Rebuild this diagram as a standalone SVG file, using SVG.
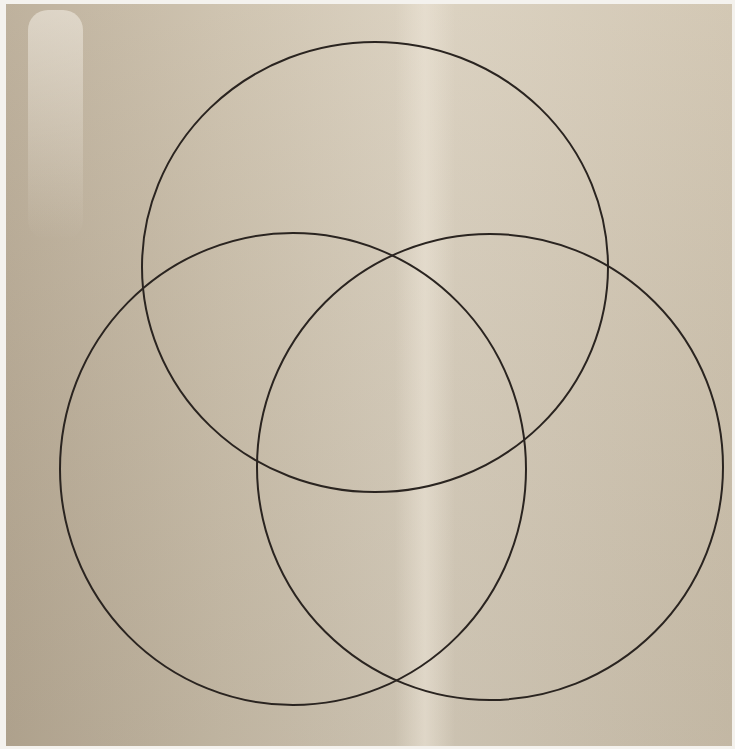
<svg xmlns="http://www.w3.org/2000/svg" width="735" height="749" viewBox="0 0 735 749">
<defs>
<linearGradient id="bg" x1="0" y1="0" x2="1" y2="0">
<stop offset="0" stop-color="#b9ab95"/>
<stop offset="0.3" stop-color="#cbbfaa"/>
<stop offset="0.58" stop-color="#d9cfbd"/>
<stop offset="1" stop-color="#cfc3ae"/>
</linearGradient>
<linearGradient id="shade" x1="0" y1="0" x2="0" y2="1">
<stop offset="0" stop-color="#ffffff" stop-opacity="0.08"/>
<stop offset="1" stop-color="#000000" stop-opacity="0.06"/>
</linearGradient>
<linearGradient id="band" x1="0" y1="0" x2="1" y2="0">
<stop offset="0" stop-color="#ece4d6" stop-opacity="0"/>
<stop offset="0.5" stop-color="#ece4d6" stop-opacity="0.6"/>
<stop offset="1" stop-color="#ece4d6" stop-opacity="0"/>
</linearGradient>
<linearGradient id="gloss" x1="0" y1="0" x2="0" y2="1">
<stop offset="0" stop-color="#f4efe6" stop-opacity="0.55"/>
<stop offset="1" stop-color="#f4efe6" stop-opacity="0"/>
</linearGradient>
</defs>
<style>
.c{fill:none;stroke:#2a2420;stroke-width:2}
</style>
<rect width="735" height="749" fill="#f4f2ee"/>
<rect x="6" y="4" width="726" height="742" fill="url(#bg)"/>
<rect x="6" y="4" width="726" height="742" fill="url(#shade)"/>
<rect x="395" y="4" width="60" height="742" fill="url(#band)"/>
<rect x="28" y="10" width="55" height="230" rx="20" fill="url(#gloss)"/>
<g id="top"><ellipse class="c" cx="375" cy="267" rx="233" ry="225"/></g>
<g id="left"><ellipse class="c" cx="293" cy="469" rx="233" ry="236"/></g>
<g id="right"><ellipse class="c" cx="490" cy="467" rx="233" ry="233"/></g>
</svg>
